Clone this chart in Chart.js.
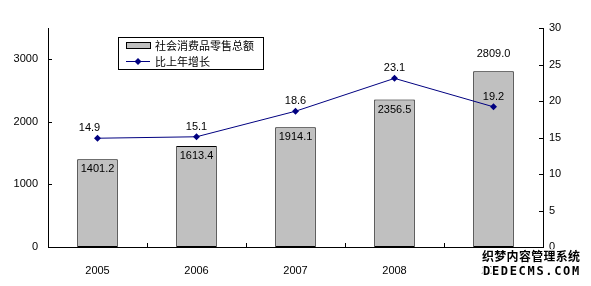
<!DOCTYPE html>
<html>
<head>
<meta charset="utf-8">
<script src="https://cdn.jsdelivr.net/npm/chart.js@4"></script>
<style>
  html, body { margin: 0; padding: 0; background: #fff; }
  #wrap { width: 591px; height: 286px; }
</style>
</head>
<body>
<div id="wrap"><canvas id="retailChart" width="591" height="286"></canvas></div>
<script>
const years = ["2005", "2006", "2007", "2008", "2009"];
const retailSales = [1401.2, 1613.4, 1914.1, 2356.5, 2809.0];
const growthRate = [14.9, 15.1, 18.6, 23.1, 19.2];
const leftTicks = [0, 1000, 2000, 3000];
const rightTicks = [0, 5, 10, 15, 20, 25, 30];
const salesLabel = "社会消费品零售总额";
const growthLabel = "比上年增长";

const fontFamily = "'Liberation Sans', Arial, sans-serif";
const cjkFont = "'Noto Sans CJK SC', sans-serif";

// inward tick marks, value labels, legend box, watermark
const decorations = {
  id: "decorations",
  afterDraw(chart) {
    const ctx = chart.ctx;
    const area = chart.chartArea;
    const yL = chart.scales.y;
    const yR = chart.scales.y1;
    ctx.save();
    ctx.strokeStyle = "#000";
    ctx.lineWidth = 1;
    ctx.beginPath();
    leftTicks.forEach(v => {
      const py = Math.round(yL.getPixelForValue(v)) + 0.5;
      ctx.moveTo(area.left, py); ctx.lineTo(area.left + 4, py);
    });
    rightTicks.forEach(v => {
      const py = Math.round(yR.getPixelForValue(v)) + 0.5;
      ctx.moveTo(area.right - 4, py); ctx.lineTo(area.right, py);
    });
    const step = (area.right - area.left) / years.length;
    for (let i = 1; i < years.length; i++) {
      const px = Math.round(area.left + i * step) + 0.5;
      ctx.moveTo(px, area.bottom); ctx.lineTo(px, area.bottom - 4);
    }
    ctx.stroke();

    // value labels
    ctx.fillStyle = "#000";
    ctx.font = "11px " + fontFamily;
    ctx.textAlign = "center";
    ctx.textBaseline = "middle";
    const barMeta = chart.getDatasetMeta(0);
    barMeta.data.forEach((bar, i) => {
      const txt = retailSales[i].toFixed(1);
      const ly = i === retailSales.length - 1 ? bar.y - 17 : bar.y + 10;
      ctx.fillText(txt, bar.x, ly);
    });
    const lineMeta = chart.getDatasetMeta(1);
    lineMeta.data.forEach((pt, i) => {
      ctx.fillText(growthRate[i].toFixed(1), pt.x - (i === 0 ? 8 : 0), pt.y - 10);
    });

    // legend
    const lx = 118, ly = 37, lw = 145, lh = 32;
    ctx.fillStyle = "#fff";
    ctx.fillRect(lx, ly, lw, lh);
    ctx.strokeStyle = "#000";
    ctx.strokeRect(lx + 0.5, ly + 0.5, lw, lh);
    ctx.fillStyle = "#c0c0c0";
    ctx.fillRect(126, 42, 24, 6);
    ctx.strokeRect(126.5, 42.5, 24, 6);
    ctx.strokeStyle = "#000080";
    ctx.beginPath();
    ctx.moveTo(126, 61.5); ctx.lineTo(150, 61.5);
    ctx.stroke();
    ctx.fillStyle = "#000080";
    ctx.beginPath();
    ctx.moveTo(138, 58); ctx.lineTo(141.5, 61.5); ctx.lineTo(138, 65); ctx.lineTo(134.5, 61.5);
    ctx.closePath(); ctx.fill();
    ctx.fillStyle = "#000";
    ctx.font = "11px " + cjkFont;
    ctx.textAlign = "left";
    ctx.fillText(salesLabel, 155, 45.5);
    ctx.fillText(growthLabel, 155, 61.5);

    // watermark
    ctx.lineJoin = "round";
    ctx.strokeStyle = "#fff";
    ctx.lineWidth = 3;
    ctx.font = "bold 12px " + cjkFont;
    ctx.textAlign = "left";
    const wm1 = "织梦内容管理系统";
    for (let i = 0; i < wm1.length; i++) {
      ctx.strokeText(wm1[i], 482 + i * 12.3, 256);
      ctx.fillText(wm1[i], 482 + i * 12.3, 256);
    }
    ctx.font = "bold 12px 'DejaVu Sans Mono', monospace";
    const wm2 = "DEDECMS.COM";
    for (let i = 0; i < wm2.length; i++) {
      ctx.strokeText(wm2[i], 483 + i * 8.9, 272);
      ctx.fillText(wm2[i], 483 + i * 8.9, 272);
    }
    ctx.restore();
  }
};

const ctx = document.getElementById("retailChart").getContext("2d");
new Chart(ctx, {
  data: {
    labels: years,
    datasets: [
      {
        type: "bar",
        label: salesLabel,
        data: retailSales,
        backgroundColor: "#c0c0c0",
        borderColor: "#000",
        borderWidth: 1,
        borderSkipped: false,
        categoryPercentage: 1,
        barPercentage: 0.41,
        yAxisID: "y",
        order: 2,
      },
      {
        type: "line",
        label: growthLabel,
        data: growthRate,
        borderColor: "#000080",
        backgroundColor: "#000080",
        borderWidth: 1,
        pointStyle: "rectRot",
        pointRadius: 3.5,
        pointBorderWidth: 0,
        tension: 0,
        yAxisID: "y1",
        order: 1,
      },
    ],
  },
  options: {
    responsive: false,
    animation: false,
    devicePixelRatio: 1,
    layout: { padding: { top: 28, left: 0, right: 0, bottom: 0 } },
    plugins: { legend: { display: false }, tooltip: { enabled: false } },
    scales: {
      x: {
        offset: true,
        grid: { display: false, drawTicks: false },
        border: { display: true, color: "#000", width: 1 },
        ticks: { color: "#000", font: { size: 11, family: fontFamily }, padding: 17 },
        afterFit: s => { s.height = 39; },
      },
      y: {
        position: "left",
        min: 0,
        max: 3500,
        afterBuildTicks: s => { s.ticks = leftTicks.map(v => ({ value: v })); },
        grid: { display: false, drawTicks: false },
        border: { display: true, color: "#000", width: 1 },
        ticks: { color: "#000", font: { size: 11, family: fontFamily }, padding: 10, callback: v => String(v) },
        afterFit: s => { s.width = 48; },
      },
      y1: {
        position: "right",
        min: 0,
        max: 30,
        afterBuildTicks: s => { s.ticks = rightTicks.map(v => ({ value: v })); },
        grid: { display: false, drawTicks: false },
        border: { display: true, color: "#000", width: 1 },
        ticks: { color: "#000", font: { size: 11, family: fontFamily }, padding: 6, callback: v => String(v) },
        afterFit: s => { s.width = 48; },
      },
    },
  },
  plugins: [decorations],
});
</script>
</body>
</html>
